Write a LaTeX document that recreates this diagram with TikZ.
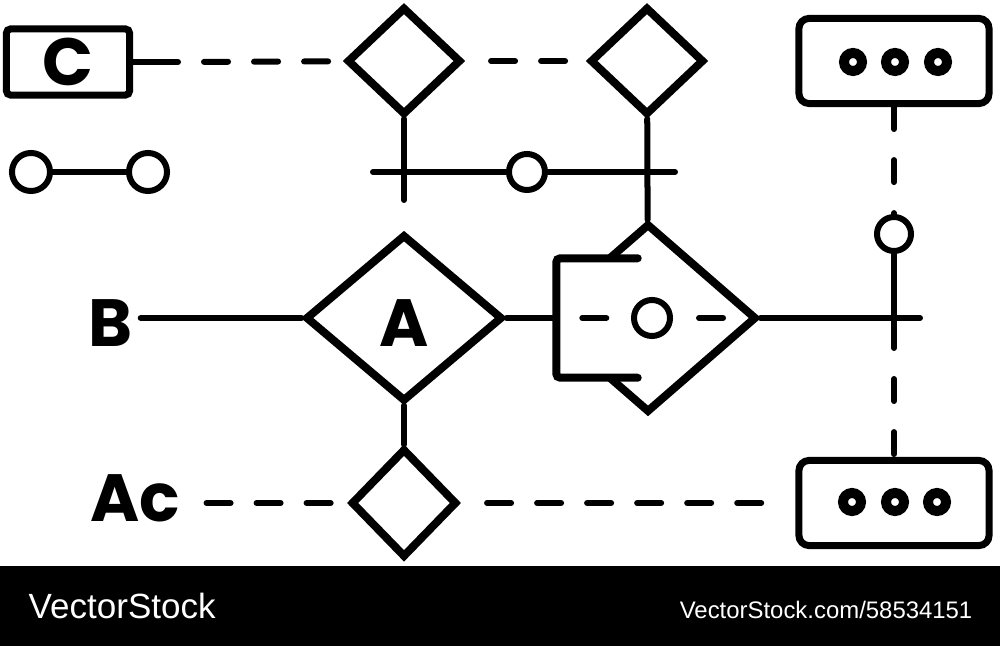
\documentclass[tikz,border=0pt]{standalone}
\usepackage{fontspec}
\setmainfont{Poppins}
\newfontfamily\bandfont{Liberation Sans}
\usetikzlibrary{shapes.geometric}

\begin{document}
\begin{tikzpicture}
        [
        x=0.01cm, y=-0.01cm,
        Line/.style={line width=0.6mm, line cap=round},
        DashLine/.style={Line, dash pattern=on 0.24cm off 0.26cm, dash phase=0.24cm},
        VDash/.style={Line, dash pattern=on 0.22cm off 0.31cm},
        DNode/.style={diamond, draw, line width=0.8mm, inner sep=0pt, fill=white},
        Box/.style={rectangle, draw, line width=0.7mm, rounded corners=0.04cm, inner sep=0pt},
        LongBox/.style={Box, rounded corners=0.1cm, minimum width=1.9cm, minimum height=0.85cm},
        Bracket/.style={line width=0.8mm, line cap=round, rounded corners=0.04cm},
        Ring/.style={circle, draw, line width=0.6mm, inner sep=0pt, fill=white},
        Dot/.style={circle, draw, line width=1mm, inner sep=0pt, minimum size=0.18cm},
        Tag/.style={inner sep=0pt, font=\fontsize{19}{19}\selectfont\bfseries},
        Band/.style={inner sep=0pt, text=white},
        ]

        \useasboundingbox (0,0) rectangle (1000,646);
        \fill (0,566) rectangle (1000,646);
        \node[Band, anchor=base west, font=\bandfont\fontsize{9.96}{10}\selectfont] (brand) at (28,618) {VectorStock};
        \node[Band, anchor=base east, font=\bandfont\fontsize{6.8}{7}\selectfont] (link) at (973,618) {VectorStock.com/58534151};

        \node[Box, Tag, minimum width=1.23cm, minimum height=0.66cm] (boxC) at (68,62) {C};
        \node[Ring, minimum size=0.38cm] (p1) at (31,172) {};
        \node[Ring, minimum size=0.38cm] (p2) at (148,172) {};

\node[DNode, minimum width=1.14cm, minimum height=1.08cm] (d1) at (404,61) {};
\node[DNode, minimum width=1.14cm, minimum height=1.08cm] (d2) at (647,61) {};
\node[Ring, minimum size=0.36cm] (hub) at (527,172) {};
\coordinate (hl) at (373,172);
\coordinate (hr) at (675,172);
\coordinate (d1end) at (404,200);

\node[DNode, minimum width=1.97cm, minimum height=1.67cm] (dA) at (404,318) {};
\node[Tag] (tA) at (404,323) {A};
\node[Tag] (tB) at (111,323) {B};
\node[DNode, minimum width=1.06cm, minimum height=1.09cm] (dlow) at (404,503) {};
\node[Tag] (tAc) at (135,498) {Ac};

\node[DNode, minimum width=2.17cm, minimum height=1.89cm] (dbig) at (648,318) {};
\node[fill=white, inner sep=0pt, minimum width=0.8cm, minimum height=1.18cm] (br) at (597,318) {};
% hide the left tip of the big diamond
\fill[white] ([xshift=-0.3cm]br.north west) rectangle (br.south west);
\draw[Bracket] (br.north east) -- (br.north west) -- (br.south west) -- (br.south east);
\node[Ring, minimum size=0.36cm] (ic) at (652,318) {};
\coordinate (icr) at (728,318);
\coordinate (bdr) at (920,318);

\node[LongBox] (top) at (894,61) {};
\node[Dot] (t1) at (853,62) {};
\node[Dot] (t2) at (895,62) {};
\node[Dot] (t3) at (938,62) {};
\node[LongBox] (bot) at (894,503) {};
\node[Dot] (b1) at (852,502) {};
\node[Dot] (b2) at (895,502) {};
\node[Dot] (b3) at (937,502) {};
\node[Ring, minimum size=0.34cm] (rc) at (894,234) {};
\coordinate (rcend) at (894,348);

\coordinate (cstub) at (178,62);
\draw[Line] (boxC) -- (cstub);
\draw[DashLine] (cstub) -- (d1);
\draw[DashLine] (d1) -- (d2);
\draw[Line] (p1) -- (p2);
\draw[Line] (d1) -- (d1end);
\draw[Line] (hl) -- (hub);
\draw[Line] (hub) -- (hr);
\draw[Line] (d2) -- (dbig);

\draw[Line, shorten <=0.07cm] (tB.east |- dA.west) -- (dA);
\draw[Line] (dA) -- (br);
\draw[Line] (dA) -- (dlow);
\draw[DashLine] (tAc.east |- dlow.west) -- (dlow);
\draw[DashLine, shorten >=0.1cm] (dlow) -- (bot);
\draw[DashLine] (br.west) -- (ic);
\draw[DashLine] (ic) -- (icr);
\draw[Line] (dbig) -- (bdr);

\draw[VDash] (top) -- (rc);
\draw[Line] (rc) -- (rcend);
\draw[VDash, dash phase=0.22cm] (rcend) -- (bot);

    \end{tikzpicture}
\end{document}
